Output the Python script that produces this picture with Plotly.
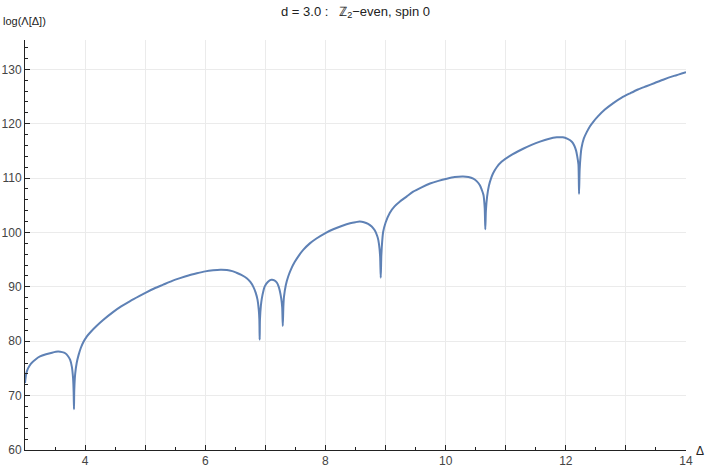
import plotly.graph_objects as go

delta = [3.00, 3.02, 3.05, 3.10, 3.18, 3.25, 3.35, 3.45, 3.55, 3.62, 3.67, 3.72, 3.75, 3.78, 3.80, 3.81, 3.815,
         3.82, 3.835, 3.86, 3.89, 3.93, 3.97, 4.03, 4.10, 4.19, 4.30, 4.47, 4.60, 4.75, 4.90, 5.02, 5.15, 5.30,
         5.45, 5.58, 5.72, 5.86, 6.00, 6.13, 6.25, 6.36, 6.45, 6.52, 6.60, 6.69, 6.75, 6.80, 6.84, 6.87, 6.89,
         6.90, 6.905,
         6.91, 6.925, 6.94, 6.97, 6.99, 7.04, 7.10, 7.15, 7.19, 7.22, 7.24, 7.265, 7.28, 7.29,
         7.30, 7.31, 7.34, 7.38, 7.43, 7.49, 7.56, 7.63, 7.74, 7.85, 8.00, 8.13, 8.27, 8.41, 8.50, 8.57, 8.64,
         8.71, 8.77, 8.82, 8.86, 8.88, 8.90, 8.91, 8.92,
         8.93, 8.945, 8.96, 9.00, 9.07, 9.15, 9.24, 9.35, 9.46, 9.60, 9.74, 9.88, 10.02, 10.15, 10.29, 10.38,
         10.46, 10.52, 10.57, 10.60, 10.63, 10.65, 10.66,
         10.67, 10.69, 10.72, 10.76, 10.79, 10.85, 10.93, 11.07, 11.29, 11.43, 11.57, 11.71, 11.85, 11.95,
         12.03, 12.10, 12.14, 12.17, 12.19, 12.21, 12.22,
         12.23, 12.245, 12.26, 12.30, 12.35, 12.40, 12.46, 12.53, 12.65, 12.79, 12.93, 13.07, 13.20, 13.34,
         13.48, 13.62, 13.80, 14.00]

log_lambda = [72.3, 74.0, 75.0, 75.9, 76.7, 77.2, 77.6, 77.9, 78.1, 78.0, 77.8, 77.2, 76.6, 75.3, 73.2, 70.5, 67.5,
              71.0, 74.0, 76.0, 77.4, 78.8, 79.8, 80.9, 81.8, 82.8, 83.9, 85.4, 86.4, 87.4, 88.3, 89.0, 89.7, 90.4,
              91.1, 91.6, 92.1, 92.5, 92.85, 93.05, 93.15, 93.1, 92.9, 92.6, 92.2, 91.6, 90.9, 90.0, 88.9, 87.6, 85.8,
              84.0, 80.3,
              84.0, 86.5, 87.8, 89.4, 90.1, 90.9, 91.3, 91.2, 90.8, 90.1, 89.3, 87.8, 86.2, 82.8,
              86.5, 88.2, 90.3, 91.9, 93.3, 94.6, 95.8, 96.8, 98.0, 98.9, 99.9, 100.6, 101.2, 101.7, 101.9, 102.0, 101.9,
              101.6, 101.1, 100.4, 99.4, 98.6, 97.0, 95.5, 91.7,
              95.8, 98.5, 100.1, 101.8, 103.6, 104.8, 105.7, 106.6, 107.5, 108.3, 109.0, 109.5, 109.9, 110.2, 110.3, 110.2,
              109.9, 109.4, 108.7, 107.9, 106.9, 104.5, 100.6,
              104.0, 106.6, 108.6, 110.1, 110.9, 112.0, 113.0, 114.1, 115.4, 116.1, 116.7, 117.2, 117.5, 117.5,
              117.2, 116.7, 116.0, 115.1, 114.0, 112.5, 107.1,
              111.5, 114.0, 115.5, 117.3, 118.5, 119.5, 120.4, 121.3, 122.6, 123.8, 124.8, 125.6, 126.3, 126.9,
              127.5, 128.1, 128.8, 129.5]

x_tickvals = [3, 4, 5, 6, 7, 8, 9, 10, 11, 12, 13, 14]
x_ticktext = ["", "4", "", "6", "", "8", "", "10", "", "12", "", "14"]
y_tickvals = [60, 70, 80, 90, 100, 110, 120, 130]
y_ticktext = ["60", "70", "80", "90", "100", "110", "120", "130"]

FONT = "Liberation Sans, Arial, sans-serif"
TICKCOLOR = "#444444"
GRID = "#ebebeb"

fig = go.Figure()
fig.add_trace(go.Scatter(x=delta, y=log_lambda, mode="lines",
                         line=dict(color="#5e81b5", width=2, shape="spline", smoothing=0.7),
                         hoverinfo="skip"))

fig.update_layout(
    width=706, height=472,
    margin=dict(l=25, r=20, t=40, b=22, autoexpand=False),
    paper_bgcolor="white", plot_bgcolor="white",
    showlegend=False,
    font=dict(family=FONT, size=12, color=TICKCOLOR),
    title=dict(text="d = 3.0 :   ℤ<sub>2</sub>−even, spin 0",
               x=0.5, xref="paper", y=1 - 11 / 472, yref="container",
               xanchor="center", yanchor="middle",
               font=dict(family=FONT, size=13, color="#222222")),
    xaxis=dict(range=[3, 14], tickvals=x_tickvals, ticktext=x_ticktext, automargin=False,
               showgrid=True, gridcolor=GRID, gridwidth=1, zeroline=False,
               showline=True, linecolor="#222222", linewidth=1,
               ticks="inside", ticklen=5, tickcolor="#222222", tickwidth=1,
               minor=dict(dtick=0.5, ticks="inside", ticklen=3, tickcolor="#222222", showgrid=False),
               tickfont=dict(family=FONT, size=12, color=TICKCOLOR)),
    yaxis=dict(range=[60, 135.4], tickvals=y_tickvals, ticktext=y_ticktext, automargin=False,
               showgrid=True, gridcolor=GRID, gridwidth=1, zeroline=False,
               showline=True, linecolor="#222222", linewidth=1,
               ticks="inside", ticklen=5, tickcolor="#222222", tickwidth=1,
               minor=dict(tick0=60, dtick=2, ticks="inside", ticklen=3, tickcolor="#222222", showgrid=False),
               tickfont=dict(family=FONT, size=12, color=TICKCOLOR)),
    annotations=[
        dict(text="log(Λ[Δ])", xref="paper", yref="paper", x=-24 / 661, y=(450 - 21) / 410,
             xanchor="left", yanchor="middle", showarrow=False,
             font=dict(family=FONT, size=11, color="#222222")),
        dict(text="Δ", xref="paper", yref="paper", x=(700 - 25) / 661, y=(450 - 451) / 410,
             xanchor="center", yanchor="middle", showarrow=False,
             font=dict(family=FONT, size=12, color="#222222")),
    ],
)

fig.write_html("out.html", config={"displayModeBar": False},
               post_script="document.body.style.margin='0';document.body.style.overflow='hidden';")
